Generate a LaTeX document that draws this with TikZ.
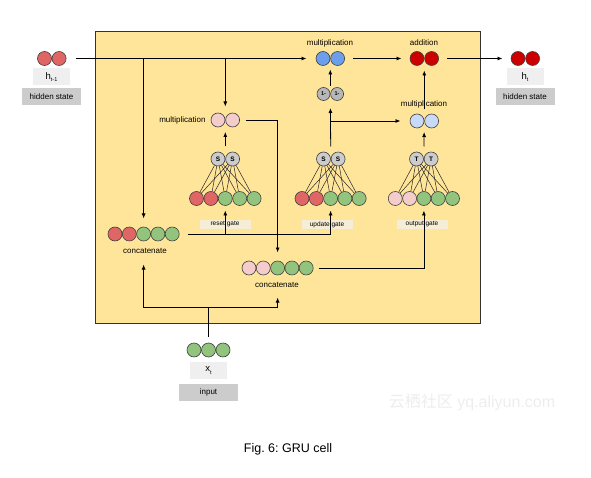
\documentclass[tikz,border=0pt]{standalone}
\usepackage{fontspec}
\setmainfont{Liberation Sans}
\newfontfamily\cjkfont{Noto Sans CJK SC}
\usepackage{tikz}
\usetikzlibrary{arrows.meta,positioning,fit,shadows}
\definecolor{CellYellow}{HTML}{FFE599}
\definecolor{DotRed}{HTML}{E06666}
\definecolor{DotGreen}{HTML}{93C47D}
\definecolor{DotPink}{HTML}{F4CCCC}
\definecolor{DotBlue}{HTML}{6D9EEB}
\definecolor{DotDarkRed}{HTML}{CC0000}
\definecolor{DotPaleBlue}{HTML}{C9DAF8}
\definecolor{ActGray}{HTML}{CCCCCC}
\definecolor{MinusGray}{HTML}{B7B7B7}
\definecolor{TagLight}{HTML}{EFEFEF}
\definecolor{TagDark}{HTML}{CCCCCC}
\definecolor{GateTag}{HTML}{F5EDD5}
\frenchspacing

\begin{document}
\begin{tikzpicture}[
  x=1pt, y=-1pt,
  dot/.style={circle, draw=black!75, line width=0.6pt, minimum size=14pt, inner sep=0pt},
  act/.style={dot, fill=ActGray, font=\fontsize{6.5}{6.5}\selectfont\bfseries},
  pair/.style={inner sep=0pt},
  lbl/.style={font=\fontsize{8}{9}\selectfont, inner sep=1pt},
  tag/.style={fill=TagLight, minimum width=37pt, minimum height=17pt, inner sep=0pt, font=\fontsize{9.5}{10}\selectfont},
  statetag/.style={fill=TagDark, minimum width=59pt, minimum height=17pt, inner sep=0pt, font=\fontsize{8}{9}\selectfont},
  gatetag/.style={fill=GateTag, minimum width=51pt, minimum height=9pt, inner sep=0pt, font=\fontsize{6.5}{7}\selectfont},
  arrow/.style={-{Latex[length=5pt,width=4pt]}, line width=0.8pt},
  link/.style={line width=0.8pt},
  fan/.style={line width=0.5pt, black!85}
]
\useasboundingbox (0,0) rectangle (591,478);

\node[draw=black!80, line width=1pt, fill=CellYellow, minimum width=385pt, minimum height=291pt,
  drop shadow={shadow xshift=1.2pt, shadow yshift=-1.2pt, opacity=0.35}] (cell) at (287.5,177.5) {};

% hidden state in / out
\node[dot, fill=DotRed] (hp1) at (44.5,58.5) {};
\node[dot, fill=DotRed, right=0pt of hp1] (hp2) {};
\node[pair, fit=(hp1)(hp2)] (hprev) {};
\node[tag] (hprevtag) at (51.5,77) {h\raisebox{-2.5pt}{\fontsize{5.5}{6}\selectfont t-1}};
\node[statetag] (hprevstate) at (51.5,97) {hidden state};

\node[dot, fill=DotDarkRed] (hn1) at (518,58.5) {};
\node[dot, fill=DotDarkRed, right=0pt of hn1] (hn2) {};
\node[pair, fit=(hn1)(hn2)] (hnext) {};
\node[tag] (hnexttag) at (525,77) {h\raisebox{-2.5pt}{\fontsize{5.5}{6}\selectfont t}};
\node[statetag] (hnextstate) at (525,97) {hidden state};

% top operations
\node[dot, fill=DotBlue] (mu1) at (323,58.5) {};
\node[dot, fill=DotBlue, right=0pt of mu1] (mu2) {};
\node[pair, fit=(mu1)(mu2)] (mulupd) {};
\node[lbl] (mulupdlbl) at (330,43) {multiplication};

\node[dot, fill=DotDarkRed] (ad1) at (417,58.5) {};
\node[dot, fill=DotDarkRed, right=0pt of ad1] (ad2) {};
\node[pair, fit=(ad1)(ad2)] (addnode) {};
\node[lbl] (addlbl) at (424,43) {addition};

\node[dot, fill=MinusGray, minimum size=13pt, font=\fontsize{5.5}{6}\selectfont\bfseries] (om1) at (323.5,94) {1-};
\node[dot, fill=MinusGray, minimum size=13pt, font=\fontsize{5.5}{6}\selectfont\bfseries, right=0pt of om1] (om2) {1-};
\node[pair, fit=(om1)(om2)] (oneminus) {};

\node[dot, fill=DotPaleBlue] (mo1) at (417,121) {};
\node[dot, fill=DotPaleBlue, right=0pt of mo1] (mo2) {};
\node[pair, fit=(mo1)(mo2)] (mulout) {};
\node[lbl] (muloutlbl) at (424,104) {multiplication};

\node[dot, fill=DotPink] (mr1) at (218,120) {};
\node[dot, fill=DotPink, right=0pt of mr1] (mr2) {};
\node[pair, fit=(mr1)(mr2)] (mulreset) {};
\node[lbl, left=4pt of mr1] (mulresetlbl) {multiplication};

% gates
\node[act] (resetA) at (218,159) {S};
\node[act, right=0pt of resetA] (resetB) {S};
\node[pair, fit=(resetA)(resetB)] (resetact) {};
\foreach \c [count=\i] in {DotRed,DotRed,DotGreen,DotGreen,DotGreen}
  \node[dot, fill=\c] (reset\i) at ({196.5+14.4*(\i-1)},198.5) {};
\node[pair, fit=(reset1)(reset5)] (resetin) {};

\node[act] (updateA) at (323.5,159) {S};
\node[act, right=0pt of updateA] (updateB) {S};
\node[pair, fit=(updateA)(updateB)] (updateact) {};
\foreach \c [count=\i] in {DotRed,DotRed,DotGreen,DotGreen,DotGreen}
  \node[dot, fill=\c] (update\i) at ({302+14.3*(\i-1)},198.5) {};
\node[pair, fit=(update1)(update5)] (updatein) {};

\node[act] (outA) at (416.5,159) {T};
\node[act, right=0pt of outA] (outB) {T};
\node[pair, fit=(outA)(outB)] (outact) {};
\foreach \c [count=\i] in {DotPink,DotPink,DotGreen,DotGreen,DotGreen}
  \node[dot, fill=\c] (out\i) at ({395.3+14.3*(\i-1)},198.5) {};
\node[pair, fit=(out1)(out5)] (outin) {};

\foreach \g in {reset,update,out}
  \foreach \s in {A,B}
    \foreach \i in {1,...,5}
      \draw[fan] (\g\s) -- (\g\i);

\node[gatetag] (resettag) at (225,224.5) {reset gate};
\node[gatetag] (updatetag) at (327,224.5) {update gate};
\node[gatetag] (outtag) at (422,224.5) {output gate};

% concatenations and input
\foreach \c [count=\i] in {DotRed,DotRed,DotGreen,DotGreen,DotGreen}
  \node[dot, fill=\c] (cA\i) at ({115+14.3*(\i-1)},234) {};
\node[pair, fit=(cA1)(cA5)] (concatA) {};
\node[lbl] (concatAlbl) at (145,250.5) {concatenate};

\foreach \c [count=\i] in {DotPink,DotPink,DotGreen,DotGreen,DotGreen}
  \node[dot, fill=\c] (cB\i) at ({249+14.3*(\i-1)},268) {};
\node[pair, fit=(cB1)(cB5)] (concatB) {};
\node[lbl] (concatBlbl) at (277,284.5) {concatenate};

\foreach \i in {1,2,3}
  \node[dot, fill=DotGreen] (x\i) at ({194+14.5*(\i-1)},350) {};
\node[pair, fit=(x1)(x3)] (xin) {};
\node[tag] (xtag) at (208.5,370.5) {x\raisebox{-2.5pt}{\fontsize{5.5}{6}\selectfont t}};
\node[statetag] (xstate) at (208.5,392) {input};
\coordinate (join) at (208.5,307);

% connectors
\draw[arrow, shorten <=9pt, shorten >=9pt] (hprev) -- (mulupd);
\draw[arrow, shorten >=8pt] (hprev -| concatA) -- (concatA);
\draw[arrow, shorten >=6pt] (hprev -| mulreset) -- (mulreset);
\draw[arrow, shorten <=8pt, shorten >=8pt] (mulupd) -- (addnode);
\draw[arrow, shorten <=8pt, shorten >=8pt] (addnode) -- (hnext);
\draw[arrow, shorten <=1pt, shorten >=3.5pt] (oneminus) -- (mulupd);
\draw[arrow, shorten <=5pt, shorten >=7pt] (updateact) -- (oneminus);
\draw[arrow, shorten >=9pt] (updateact |- mulout) -- (mulout);
\draw[arrow, shorten <=5pt, shorten >=3.5pt] (outact) -- (mulout);
\draw[arrow, shorten <=4pt, shorten >=4.5pt] (mulout) -- (addnode);
\draw[arrow, shorten <=5pt, shorten >=4.5pt] (resetact) -- (mulreset);
\draw[arrow, shorten <=6pt, shorten >=8pt] (mulreset) -| (concatB);
\draw[arrow, shorten <=8pt, shorten >=4.5pt] (concatA) -| (updatein);
\draw[arrow, shorten >=4.5pt] (concatA -| resetin) -- (resetin);
\draw[arrow, shorten <=5pt, shorten >=4.5pt] (concatB) -| (outin);
\draw[link, shorten <=6pt] (xin) -- (join);
\draw[arrow, shorten >=23pt] (join) -| (concatA);
\draw[arrow, shorten >=22pt] (join) -| (concatB);

\node[font=\fontsize{12.5}{14}\selectfont] (caption) at (288,449) {Fig. 6: GRU cell};
\node[text=black!7, font=\fontsize{16}{18}\selectfont] (mark) at (472,402) {{\cjkfont 云栖社区} yq.aliyun.com};
\end{tikzpicture}
\end{document}
